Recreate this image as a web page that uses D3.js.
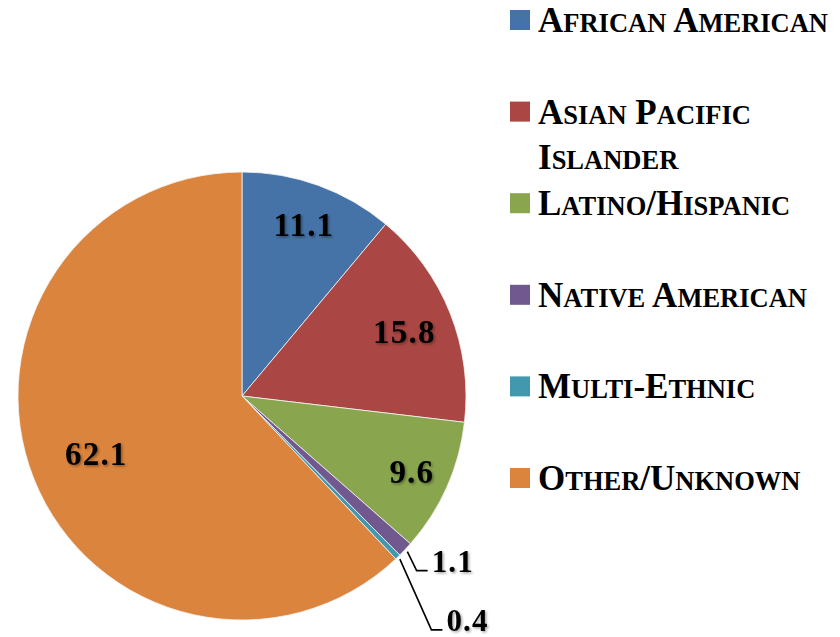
<!DOCTYPE html>
<html>
<head>
<meta charset="utf-8">
<script src="https://cdn.jsdelivr.net/npm/d3@7"></script>
<style>
  body { margin: 0; background: #fff; }
  svg text { font-family: "Liberation Serif", "DejaVu Serif", serif; font-weight: bold; }
</style>
</head>
<body>
<script>
// Chart data
let categories = ['African American', 'Asian Pacific Islander', 'Latino/Hispanic', 'Native American', 'Multi-Ethnic', 'Other/Unknown'];
let legendLines = [['African American'], ['Asian Pacific', 'Islander'], ['Latino/Hispanic'], ['Native American'], ['Multi-Ethnic'], ['Other/Unknown']];
let values = [11.1, 15.8, 9.6, 1.1, 0.4, 62.1];
let colors = ['#4572A7', '#AA4643', '#89A54E', '#71588F', '#4198AF', '#DB843D'];

// SVG area
let svgWidth = 840;
let svgHeight = 637;
let cx = 242, cy = 396, radius = 224;

let svg = d3.select('body')
  .append('svg')
  .attr('width', svgWidth)
  .attr('height', svgHeight);

// soft text shadow like the original labels
let defs = svg.append('defs');
defs.append('filter')
  .attr('id', 'shadow')
  .attr('x', '-20%').attr('y', '-20%')
  .attr('width', '140%').attr('height', '140%')
  .append('feDropShadow')
  .attr('dx', 1.5).attr('dy', 1.5)
  .attr('stdDeviation', 1)
  .attr('flood-color', '#000')
  .attr('flood-opacity', 0.35);

let pieGroup = svg.append('g')
  .attr('transform', `translate(${cx}, ${cy})`);

let pie = d3.pie().sort(null).value(d => d);
let arcs = pie(values);

let arc = d3.arc().innerRadius(0).outerRadius(radius);

pieGroup.selectAll('path')
  .data(arcs)
  .enter()
  .append('path')
  .attr('d', arc)
  .attr('fill', (d, i) => colors[i])
  .attr('stroke', '#f4f4f4')
  .attr('stroke-width', 0.8);

// inside labels - radius as fraction of pie radius
let insideFrac = [0.81, 0.78, 0.83, null, null, 0.70];
// outside labels for small slices: elbow point in polar coords (radius px, angle deg)
let outsideLabel = [null, null, null, { r: 247, a: 135 }, { r: 301, a: 141 }, null];

function polar(r, angleRad) {
  return [r * Math.sin(angleRad), -r * Math.cos(angleRad)];
}

arcs.forEach((d, i) => {
  let mid = (d.startAngle + d.endAngle) / 2;
  if (insideFrac[i] != null) {
    let p = polar(radius * insideFrac[i], mid);
    pieGroup.append('text')
      .attr('x', p[0])
      .attr('y', p[1])
      .attr('text-anchor', 'middle')
      .attr('dominant-baseline', 'central')
      .attr('filter', 'url(#shadow)')
      .style('font-size', '33px')
      .style('letter-spacing', '1.2px')
      .text(values[i]);
  } else {
    let o = outsideLabel[i];
    let start = polar(radius + 3, mid);
    let elbow = polar(o.r, o.a * Math.PI / 180);
    let end = [elbow[0] + 11, elbow[1]];
    pieGroup.append('path')
      .attr('d', d3.line()([start, elbow, end]))
      .attr('fill', 'none')
      .attr('stroke', '#000')
      .attr('stroke-width', 1.6);
    pieGroup.append('text')
      .attr('x', end[0] + 4)
      .attr('y', end[1] + 1)
      .attr('filter', 'url(#shadow)')
      .style('font-size', '31px')
      .style('letter-spacing', '1.2px')
      .text(values[i]);
  }
});

// Legend with hand-made small caps (big initials, smaller capitals)
let legend = svg.append('g')
  .attr('transform', 'translate(510, 10)');
let rowStep = 91.6;
let bigSize = 35, smallSize = 26.5;

function addSmallCaps(textSel, str) {
  // group characters into runs of big (capitals/punctuation) and small (lowercase)
  let runs = [];
  for (let ch of str) {
    let small = ch !== ch.toUpperCase();
    if (runs.length && runs[runs.length - 1].small === small) {
      runs[runs.length - 1].s += ch;
    } else {
      runs.push({ small: small, s: ch });
    }
  }
  runs.forEach(r => {
    textSel.append('tspan')
      .style('font-size', (r.small ? smallSize : bigSize) + 'px')
      .text(r.s.toUpperCase());
  });
}

legendLines.forEach((lines, i) => {
  let row = legend.append('g')
    .attr('transform', `translate(0, ${i * rowStep})`);
  row.append('rect')
    .attr('width', 20)
    .attr('height', 20)
    .attr('fill', colors[i]);
  lines.forEach((ln, j) => {
    let t = row.append('text')
      .attr('x', 28)
      .attr('y', 22 + j * 45);
    addSmallCaps(t, ln);
  });
});
</script>
</body>
</html>
